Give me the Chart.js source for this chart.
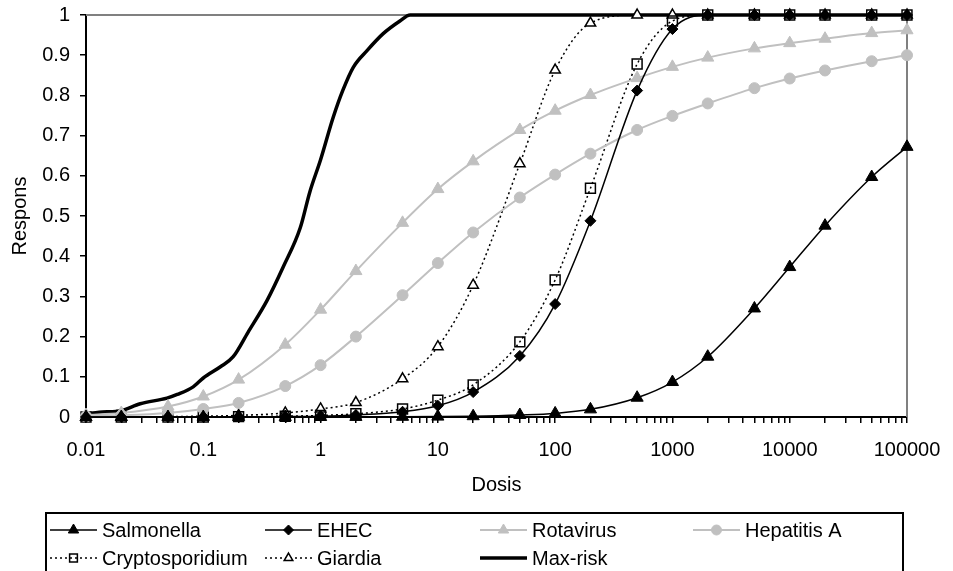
<!DOCTYPE html>
<html>
<head>
<meta charset="utf-8">
<script src="https://cdn.jsdelivr.net/npm/chart.js@4.4.1/dist/chart.umd.min.js"></script>
<style>
  html, body { margin: 0; padding: 0; background: #fff; }
  #wrap { width: 953px; height: 571px; }
</style>
</head>
<body>
<div id="wrap"><canvas id="doseChart" width="953" height="571"></canvas></div>
<script>
// Dosis (x) en respons (y)
const doses = [0.01, 0.02, 0.05, 0.1, 0.2, 0.5, 1, 2, 5, 10, 20, 50, 100, 200, 500, 1000, 2000, 5000, 10000, 20000, 50000, 100000];

const salmonella = [0, 0, 0, 0, 0, 0, 0, 0.0002, 0.0005, 0.001, 0.002, 0.005, 0.009, 0.019, 0.048, 0.087, 0.15, 0.27, 0.373, 0.476, 0.597, 0.672];
const ehec = [0, 0, 0, 0, 0, 0.001, 0.002, 0.005, 0.013, 0.028, 0.062, 0.152, 0.281, 0.488, 0.812, 0.965, 1, 1, 1, 1, 1, 1];
const rotavirus = [0.005, 0.01, 0.026, 0.051, 0.093, 0.18, 0.267, 0.363, 0.483, 0.567, 0.636, 0.714, 0.762, 0.801, 0.843, 0.871, 0.894, 0.917, 0.93, 0.941, 0.955, 0.962];
const hepatitisA = [0.002, 0.004, 0.01, 0.02, 0.035, 0.077, 0.129, 0.2, 0.303, 0.383, 0.459, 0.546, 0.603, 0.655, 0.714, 0.749, 0.78, 0.818, 0.842, 0.862, 0.885, 0.9];
const cryptosporidium = [0, 0, 0, 0, 0.001, 0.002, 0.004, 0.008, 0.02, 0.042, 0.08, 0.187, 0.341, 0.569, 0.878, 0.985, 1, 1, 1, 1, 1, 1];
const giardia = [0, 0, 0.001, 0.002, 0.004, 0.01, 0.02, 0.036, 0.095, 0.175, 0.328, 0.63, 0.863, 0.98, 1, 1, 1, 1, 1, 1, 1, 1];

// Max-risk heeft een fijnere reeks doses
const maxRiskDoses = [0.01, 0.013, 0.018, 0.02, 0.029, 0.049, 0.06, 0.082, 0.1, 0.14, 0.18, 0.24, 0.35, 0.48, 0.67, 0.81, 1, 1.28, 1.55, 1.9, 2.5, 3.4, 4.75, 5.8, 7, 100000];
const maxRisk = [0.008, 0.012, 0.014, 0.016, 0.033, 0.047, 0.056, 0.075, 0.097, 0.125, 0.15, 0.21, 0.29, 0.373, 0.47, 0.56, 0.64, 0.745, 0.813, 0.87, 0.912, 0.953, 0.985, 1, 1, 1];

const seriesNames = ['Salmonella', 'EHEC', 'Rotavirus', 'Hepatitis A', 'Cryptosporidium', 'Giardia', 'Max-risk'];
const xTickLabels = ['0.01', '0.1', '1', '10', '100', '1000', '10000', '100000'];
const yTickLabels = ['0', '0.1', '0.2', '0.3', '0.4', '0.5', '0.6', '0.7', '0.8', '0.9', '1'];

const FONT = "'Liberation Sans', Arial, sans-serif";
const toPoints = (xs, ys) => xs.map((x, i) => ({ x: x, y: ys[i] }));

// kleine streepjes op 1..9 x 10^n
const decades = xTickLabels.map(Number);
const xTickValues = [];
decades.forEach((d, i) => {
  if (i === decades.length - 1) { xTickValues.push(d); return; }
  for (let k = 1; k <= 9; k++) xTickValues.push(+(d * k).toPrecision(6));
});

// grijze rand boven en rechts
const plotFrame = {
  id: 'plotFrame',
  beforeDatasetsDraw(chart) {
    const { ctx, chartArea: a } = chart;
    ctx.save();
    ctx.strokeStyle = '#808080';
    ctx.lineWidth = 2;
    ctx.beginPath();
    ctx.moveTo(a.left, a.top);
    ctx.lineTo(a.right, a.top);
    ctx.lineTo(a.right, a.bottom);
    ctx.stroke();
    ctx.restore();
  }
};

// legenda zoals in Excel: lijn + marker, 4 kolommen
const boxLegend = {
  id: 'boxLegend',
  afterDraw(chart) {
    const ctx = chart.ctx;
    const cols = [50, 265, 480, 693];
    const rows = [530, 558];
    ctx.save();
    ctx.strokeStyle = '#000';
    ctx.lineWidth = 2;
    ctx.strokeRect(46, 513, 857, 90);
    chart.data.datasets.forEach((ds, i) => {
      const x = cols[i < 4 ? i : i - 4];
      const y = rows[i < 4 ? 0 : 1];
      ctx.setLineDash(ds.borderDash || []);
      ctx.strokeStyle = ds.borderColor;
      ctx.lineWidth = ds.borderWidth;
      ctx.beginPath();
      ctx.moveTo(x, y);
      ctx.lineTo(x + 47, y);
      ctx.stroke();
      ctx.setLineDash([]);
      if (ds.pointRadius > 0 && Chart.helpers && Chart.helpers.drawPoint) {
        ctx.fillStyle = ds.pointBackgroundColor;
        ctx.strokeStyle = ds.pointBorderColor;
        ctx.lineWidth = ds.pointBorderWidth;
        const r = ds.legendRadius || ds.pointRadius;
        Chart.helpers.drawPoint(ctx, { pointStyle: ds.pointStyle, radius: r, borderWidth: ds.pointBorderWidth, rotation: 0 }, x + 23.5, y);
      }
      ctx.fillStyle = '#000';
      ctx.font = '20px ' + FONT;
      ctx.textBaseline = 'middle';
      ctx.textAlign = 'left';
      ctx.fillText(ds.label, x + 52, y + 1);
    });
    ctx.restore();
  }
};

const base = { fill: false, clip: false, cubicInterpolationMode: 'monotone' };

const datasets = [
  { ...base, label: seriesNames[0], data: toPoints(doses, salmonella), borderColor: '#000', borderWidth: 1.5,
    pointStyle: 'triangle', pointRadius: 7, legendRadius: 6, pointBackgroundColor: '#000', pointBorderColor: '#000', pointBorderWidth: 1 },
  { ...base, label: seriesNames[1], data: toPoints(doses, ehec), borderColor: '#000', borderWidth: 1.5,
    pointStyle: 'rectRot', pointRadius: 5.5, legendRadius: 5, pointBackgroundColor: '#000', pointBorderColor: '#000', pointBorderWidth: 1 },
  { ...base, label: seriesNames[2], data: toPoints(doses, rotavirus), borderColor: '#c0c0c0', borderWidth: 2,
    pointStyle: 'triangle', pointRadius: 7, legendRadius: 6, pointBackgroundColor: '#c0c0c0', pointBorderColor: '#c0c0c0', pointBorderWidth: 1 },
  { ...base, label: seriesNames[3], data: toPoints(doses, hepatitisA), borderColor: '#c0c0c0', borderWidth: 2,
    pointStyle: 'circle', pointRadius: 5.5, legendRadius: 5, pointBackgroundColor: '#c0c0c0', pointBorderColor: '#c0c0c0', pointBorderWidth: 1 },
  { ...base, label: seriesNames[4], data: toPoints(doses, cryptosporidium), borderColor: '#000', borderWidth: 1.5, borderDash: [2, 3],
    pointStyle: 'rect', pointRadius: 7, legendRadius: 5.5, pointBackgroundColor: 'rgba(255,255,255,0)', pointBorderColor: '#000', pointBorderWidth: 1.5 },
  { ...base, label: seriesNames[5], data: toPoints(doses, giardia), borderColor: '#000', borderWidth: 1.5, borderDash: [2, 3],
    pointStyle: 'triangle', pointRadius: 6, legendRadius: 5, pointBackgroundColor: '#fff', pointBorderColor: '#000', pointBorderWidth: 1.5 },
  { ...base, label: seriesNames[6], data: toPoints(maxRiskDoses, maxRisk), borderColor: '#000', borderWidth: 3.5,
    pointRadius: 0, pointBackgroundColor: '#000', pointBorderColor: '#000', pointBorderWidth: 0 }
];

const chart = new Chart(document.getElementById('doseChart').getContext('2d'), {
  type: 'line',
  data: { datasets: datasets },
  plugins: [plotFrame, boxLegend],
  options: {
    responsive: false,
    animation: false,
    devicePixelRatio: 1,
    layout: { padding: { top: 15, right: 46, bottom: 0, left: 0 } },
    plugins: { legend: { display: false }, tooltip: { enabled: false } },
    scales: {
      x: {
        type: 'logarithmic',
        min: 0.01,
        max: 100000,
        afterBuildTicks: (scale) => { scale.ticks = xTickValues.map(v => ({ value: v })); },
        afterFit: (scale) => { scale.height = 154; scale.paddingLeft = 0; scale.paddingRight = 0; },
        grid: { drawOnChartArea: false, drawTicks: true, tickLength: 6, color: '#000', lineWidth: 1.5 },
        border: { display: true, color: '#000', width: 2 },
        ticks: {
          autoSkip: false, maxRotation: 0, minRotation: 0, padding: 15, color: '#000',
          font: { family: FONT, size: 20 },
          callback: (value) => {
            const e = Math.log10(value);
            return Math.abs(e - Math.round(e)) < 1e-6 ? xTickLabels[Math.round(e) + 2] : '';
          }
        },
        title: { display: true, text: 'Dosis', color: '#000', font: { family: FONT, size: 20 }, padding: { top: 0, bottom: 74 } }
      },
      y: {
        type: 'linear',
        min: 0,
        max: 1,
        afterFit: (scale) => { scale.width = 86; scale.paddingTop = 0; scale.paddingBottom = 0; },
        grid: { drawOnChartArea: false, drawTicks: true, tickLength: 6, color: '#000', lineWidth: 1.5 },
        border: { display: true, color: '#000', width: 2 },
        ticks: {
          stepSize: 0.1, padding: 10, color: '#000',
          font: { family: FONT, size: 20 },
          callback: (value, index) => yTickLabels[index]
        },
        title: { display: true, text: 'Respons', color: '#000', font: { family: FONT, size: 20 }, padding: { top: 8, bottom: 0 } }
      }
    }
  }
});
</script>
</body>
</html>
